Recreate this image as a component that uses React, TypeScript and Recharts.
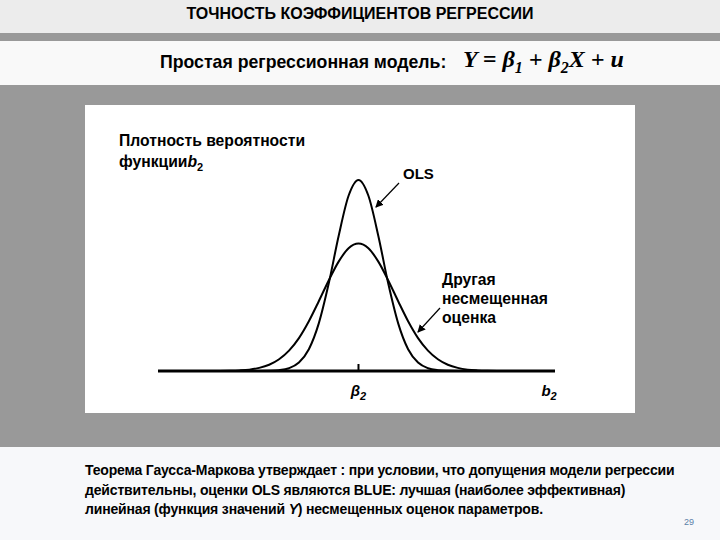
import React from "react";
import { LineChart, Line, XAxis, YAxis } from "recharts";

// positions along the b2 axis, beta2 sits at 50
const b2Values = [
  15, 17.5, 20, 22.5, 25, 27.5, 30, 32.5, 35, 37.5, 40, 42.5, 45, 47.5, 50,
  52.5, 55, 57.5, 60, 62.5, 65, 67.5, 70, 72.5, 75, 77.5, 80, 82.5, 85,
];
const olsDensity = [
  null, null, null, null, 0, 0.001, 0.004, 0.014, 0.043, 0.111, 0.243, 0.446, 0.689, 0.894, 0.975,
  0.894, 0.689, 0.446, 0.243, 0.111, 0.043, 0.014, 0.004, 0.001, 0, null, null, null, null,
];
const otherDensity = [
  0, 0.001, 0.003, 0.007, 0.016, 0.032, 0.06, 0.104, 0.168, 0.254, 0.356, 0.462, 0.558, 0.626, 0.65,
  0.626, 0.558, 0.462, 0.356, 0.254, 0.168, 0.104, 0.06, 0.032, 0.016, 0.007, 0.003, 0.001, 0,
];
const axisTicks = [50, 98];
const axisTickLabels: Record<number, string> = { 50: "β", 98: "b" };

const data = b2Values.map((x, i) => ({ x, ols: olsDensity[i], other: otherDensity[i] }));

const FONT = "'Liberation Sans', Arial, sans-serif";

function B2Tick(props: any) {
  const { x, y, payload } = props;
  const v = payload.value as number;
  return (
    <g>
      {v === 50 && <line x1={x} x2={x} y1={y - 7} y2={y} stroke="#000" strokeWidth={2} />}
      <text x={x} y={y + 25} textAnchor="middle" fontFamily={FONT} fontWeight="bold" fontStyle="italic" fontSize={15} fill="#000">
        {axisTickLabels[v]}
        <tspan fontSize={11} dy={4}>2</tspan>
      </text>
    </g>
  );
}

const label: React.CSSProperties = {
  position: "absolute",
  fontFamily: FONT,
  fontWeight: "bold",
  color: "#000",
  whiteSpace: "nowrap",
};

export default function App() {
  return (
    <div style={{ position: "absolute", left: 0, top: 0, width: 720, height: 540, background: "#f7f8fa", overflow: "hidden" }}>
      <div style={{ position: "absolute", left: 0, top: 0, width: 720, height: 33, background: "#ececec" }} />
      <div style={{ ...label, left: 0, width: 720, top: 4, textAlign: "center", fontSize: 16, lineHeight: "20px" }}>
        ТОЧНОСТЬ КОЭФФИЦИЕНТОВ РЕГРЕССИИ
      </div>
      <div style={{ position: "absolute", left: 0, top: 33, width: 720, height: 8, background: "#999" }} />
      <div style={{ position: "absolute", left: 0, top: 41, width: 720, height: 44, background: "#f9f9f9" }} />
      <div style={{ ...label, left: 160, top: 51, fontSize: 17.7, lineHeight: "22px" }}>Простая регрессионная модель:</div>
      <div style={{ ...label, left: 463, top: 45, fontSize: 24, lineHeight: "28px", fontFamily: "'Liberation Serif', 'Times New Roman', serif", fontStyle: "italic" }}>
        Y = β<sub style={{ fontSize: 16, verticalAlign: "-6px" }}>1</sub> + β<sub style={{ fontSize: 16, verticalAlign: "-6px" }}>2</sub>X + u
      </div>
      <div style={{ position: "absolute", left: 0, top: 85, width: 720, height: 362, background: "#999" }} />
      <div style={{ position: "absolute", left: 85, top: 105, width: 550, height: 308, background: "#fff" }}>
        <LineChart width={550} height={308} data={data} margin={{ top: 70, right: 80, bottom: 12, left: 73 }}>
          <XAxis
            dataKey="x"
            type="number"
            domain={[-0.5, 99.5]}
            ticks={axisTicks}
            tick={<B2Tick />}
            tickLine={false}
            tickSize={0}
            tickMargin={0}
            height={30}
            axisLine={{ stroke: "#000", strokeWidth: 3 }}
          />
          <YAxis domain={[0, 1]} tick={false} tickLine={false} width={0} axisLine={{ stroke: "#000", strokeWidth: 3 }} />
          <Line type="monotone" dataKey="other" stroke="#000" strokeWidth={2} dot={false} isAnimationActive={false} />
          <Line type="monotone" dataKey="ols" stroke="#000" strokeWidth={2} dot={false} isAnimationActive={false} />
        </LineChart>
        <div style={{ ...label, left: 34, top: 25, fontSize: 15.7, lineHeight: "21px" }}>
          Плотность вероятности
          <br />
          функции<i>b</i><sub style={{ fontSize: 11, verticalAlign: "-4px" }}>2</sub>
        </div>
        <div style={{ ...label, left: 318, top: 60, fontSize: 15, lineHeight: "18px" }}>OLS</div>
        <div style={{ ...label, left: 357, top: 165, fontSize: 15.7, lineHeight: "19px" }}>
          Другая
          <br />
          несмещенная
          <br />
          оценка
        </div>
        <svg width={550} height={308} style={{ position: "absolute", left: 0, top: 0, pointerEvents: "none" }}>
          <defs>
            <marker id="ah" markerWidth="8" markerHeight="8" refX="7" refY="4" orient="auto" markerUnits="userSpaceOnUse">
              <path d="M0,0 L8,4 L0,8 Z" fill="#000" />
            </marker>
          </defs>
          <line x1={314} y1={78} x2={291} y2={102} stroke="#000" strokeWidth={1.2} markerEnd="url(#ah)" />
          <line x1={355} y1={203} x2={333} y2={227} stroke="#000" strokeWidth={1.2} markerEnd="url(#ah)" />
        </svg>
      </div>
      <div style={{ ...label, left: 85, top: 461, fontSize: 14, lineHeight: "19.5px", letterSpacing: -0.17 }}>
        Теорема Гаусса-Маркова утверждает : при условии, что допущения модели регрессии
        <br />
        действительны, оценки OLS являются BLUE: лучшая (наиболее эффективная)
        <br />
        линейная (функция значений <i>Y</i>) несмещенных оценок параметров.
      </div>
      <div style={{ position: "absolute", left: 684, top: 517, fontFamily: FONT, fontSize: 9, color: "#5b7fa8" }}>29</div>
    </div>
  );
}
